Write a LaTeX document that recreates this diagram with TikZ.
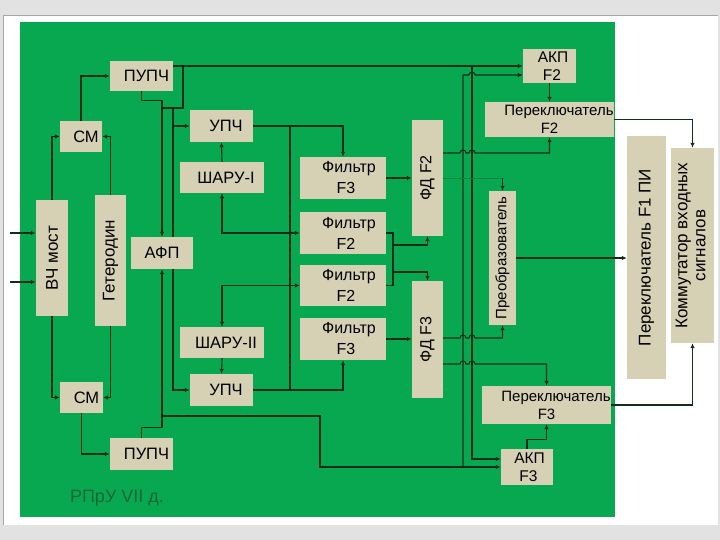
\documentclass[tikz,border=0pt]{standalone}
\usepackage{fontspec}
\setmainfont{Liberation Sans}
\usepackage{graphicx}
\usetikzlibrary{arrows.meta}
\pgfdeclarelayer{back}
\pgfdeclarelayer{wires}
\pgfsetlayers{back,wires,main}
\definecolor{bggreen}{RGB}{8,168,80}
\definecolor{boxc}{RGB}{214,209,181}
\definecolor{linec}{RGB}{20,45,25}
\definecolor{labc}{RGB}{22,105,52}
\definecolor{pagegray}{RGB}{226,226,226}
\begin{document}
\begin{tikzpicture}[x=1pt,y=-1pt,
  box/.style={fill=boxc, draw=none, inner sep=0pt, align=center, font=\fontsize{16.5}{19}\selectfont},
  vbox/.style={box, font=\fontsize{17}{19}\selectfont},
  fbox/.style={box, font=\fontsize{16}{21}\selectfont, minimum width=86pt, minimum height=42pt},
  pbox/.style={box, font=\fontsize{15}{18}\selectfont},
  conn/.style={draw=linec, line width=1.1pt},
  arr/.style={conn, -{Latex[length=5pt,width=4.5pt]}},
  faint/.style={draw=linec!30!bggreen, line width=0.8pt}]
\useasboundingbox (0,0) rectangle (720,540);
\begin{pgfonlayer}{back}
\fill[pagegray] (0,0) rectangle (720,540);
\fill[white] (3,15) rectangle (718,525);
\draw[gray!70, line width=0.8pt] (3,525) -- (3,15) -- (718,15);
\fill[bggreen] (20,22) rectangle (615,517);
\end{pgfonlayer}

% left part
\node[vbox, minimum width=32pt, minimum height=116pt] (vch) at (52,258) {\rotatebox{90}{ВЧ мост}};
\node[vbox, minimum width=31pt, minimum height=131pt] (get) at (110.5,260.5) {\rotatebox{90}{Гетеродин}};
\node[box, minimum width=42pt, minimum height=31pt] (cm1) at (81,136.5) {\hspace*{10pt}СМ};
\node[box, minimum width=43pt, minimum height=31pt] (cm2) at (81.5,397.5) {\hspace*{10pt}СМ};
\node[box, minimum width=63pt, minimum height=30pt] (pupch1) at (141.5,76) {\hspace*{10pt}ПУПЧ};
\node[box, minimum width=63pt, minimum height=32pt] (pupch2) at (141.5,454) {\hspace*{10pt}ПУПЧ};
\node[box, minimum width=62pt, minimum height=32pt] (afp) at (162,253) {АФП};
\node[box, minimum width=63pt, minimum height=32pt] (upch1) at (221.5,126) {\hspace*{9pt}УПЧ};
\node[box, minimum width=63pt, minimum height=32pt] (upch2) at (221.5,390) {\hspace*{9pt}УПЧ};
\node[box, minimum width=84pt, minimum height=31pt] (sharu1) at (222,177.5) {\hspace*{8pt}ШАРУ-I};
\node[box, minimum width=84pt, minimum height=31pt] (sharu2) at (222,342.5) {\hspace*{8pt}ШАРУ-II};
% filters
\node[fbox] (f3a) at (343,178) {\hspace*{12pt}Фильтр\\\hspace*{6pt}F3};
\node[fbox] (f2a) at (343,233) {\hspace*{12pt}Фильтр\\\hspace*{6pt}F2};
\node[fbox, minimum height=41pt] (f2b) at (343,285.5) {\hspace*{12pt}Фильтр\\\hspace*{6pt}F2};
\node[fbox] (f3b) at (343,339) {\hspace*{12pt}Фильтр\\\hspace*{6pt}F3};
\node[vbox, minimum width=31pt, minimum height=116pt, font=\fontsize{16}{19}\selectfont] (fd2) at (427.5,178) {\rotatebox{90}{ФД F2}};
\node[vbox, minimum width=31pt, minimum height=117pt, font=\fontsize{16}{19}\selectfont] (fd3) at (427.5,339.5) {\rotatebox{90}{ФД F3}};
% right part
\node[box, minimum width=53pt, minimum height=34pt, font=\fontsize{15.5}{18}\selectfont] (akp2) at (549.5,66) {\hspace*{7pt}АКП\\\hspace*{5pt}F2};
\node[box, minimum width=52pt, minimum height=36pt, font=\fontsize{15.5}{18}\selectfont] (akp3) at (527,467) {\hspace*{5pt}АКП\\\hspace*{3pt}F3};
\node[pbox, minimum width=121pt, minimum height=35pt] (per2) at (549.5,119.5) {\hspace*{19pt}Переключатель\\F2};
\node[pbox, minimum width=127pt, minimum height=38pt] (per3) at (546.5,405) {\hspace*{19pt}Переключатель\\F3};
\node[pbox, minimum width=27pt, minimum height=134pt] (preob) at (502.5,258) {\rotatebox{90}{Преобразователь}};
\node[vbox, minimum width=39pt, minimum height=243pt] (perF1) at (646.5,257.5) {\rotatebox{90}{Переключатель F1 ПИ}};
\node[vbox, minimum width=43pt, minimum height=195pt] (komm) at (692.5,245.5) {\rotatebox{90}{\begin{tabular}{@{}c@{}}Коммутатор входных\\[-1pt]сигналов\end{tabular}}};
\node[font=\fontsize{18}{20}\selectfont, text=labc, inner sep=0pt] (title) at (117,498) {РПрУ VII д.};

\begin{pgfonlayer}{wires}
% inputs
\coordinate (in1) at (10,233);
\coordinate (in2) at (10,282);
\draw[arr] (in1) -- (in1 -| vch.west);
\draw[arr] (in2) -- (in2 -| vch.west);
% mixers
\draw[arr] (vch.north) |- (cm1.west);
\draw[arr] (get.north) |- (cm1.east);
\draw[arr] (vch.south) |- (cm2.west);
\draw[arr] (get.south) |- (cm2.east);
\draw[arr] (cm1.north) |- (pupch1.west);
\draw[arr] (cm2.south) |- (pupch2.west);
% AFP
\draw[arr] (pupch1.south) -- ++(0,9) -| (afp.north);
\draw[arr] (pupch2.north) -- ++(0,-10) -| (afp.south);
% PUPCh outputs
\draw[arr] (pupch1.east |- akp2.west) -- (akp2.west);
\draw[conn] (183,66) -- (183,108) -- (162,108);
\draw[arr] (173,108) |- (upch2.west);
\draw[arr] (173,126) -- (upch1.west);
\draw[arr] (162,416) -| (320,467) -- (akp3.west);
\draw[arr] (472,66) |- ([yshift=8pt]akp3.west);
\draw[arr] (463,467) -- (463,75) -- (469,75) arc[start angle=180,end angle=0,radius=3pt] -- ([yshift=-9pt]akp2.west);
% UPCh, SHARU, filters
\draw[arr] (sharu1.north) -- (upch1.south);
\draw[arr] (sharu2.south) -- (upch2.north);
\draw[arr] (upch1.east) -| (f3a.north);
\draw[arr] (290,126) |- (f2a.west);
\draw[conn] (290,233) -- (290,285.5);
\draw[arr] (290,233) -| (sharu1.south);
\draw[arr] (upch2.east) -| (f3b.south);
\draw[arr] (290,390) |- (f2b.west);
\draw[arr] (290,285.5) -| (sharu2.north);
% filters to FD
\draw[arr] (f3a.east) -- (fd2.west);
\draw[arr] (f3b.east) -- (f3b.east -| fd3.west);
\draw[conn] (f2a.east) -- (393,233) -- (393,285.5) -- (f2b.east);
\draw[arr] (393,245) -| (fd2.south);
\draw[arr] (393,272) -| (fd3.north);
% FD outputs
\draw[arr] (fd2.east |- 0,153) -- (460,153) arc[start angle=180,end angle=0,radius=3pt] -- (469,153) arc[start angle=180,end angle=0,radius=3pt] -- (per2.south |- 0,153) -- (per2.south);
\draw[faint] (fd2.east) -- (502.5,178);
\draw[arr] (502.5,178) -- (preob.north);
\draw[arr] (fd3.east |- 0,338) -- (460,338) arc[start angle=180,end angle=0,radius=3pt] -- (469,338) arc[start angle=180,end angle=0,radius=3pt] -- (preob.south |- 0,338) -- (preob.south);
\draw[arr] (fd3.east |- 0,364) -- (460,364) arc[start angle=180,end angle=0,radius=3pt] -- (469,364) arc[start angle=180,end angle=0,radius=3pt] -- (per3.north |- 0,364) -- (per3.north);
% AKP to switches
\draw[arr] (akp2.south) -- (per2.north);
\draw[arr] (akp3.north) -- ++(0,-9) -| (per3.south);
% to the right blocks
\draw[arr] (per2.east) -| (komm.north);
\draw[arr] (per3.east) -| (komm.south);
\draw[arr] (preob.east) -- (preob.east -| perF1.west);
\end{pgfonlayer}
\end{tikzpicture}
\end{document}
